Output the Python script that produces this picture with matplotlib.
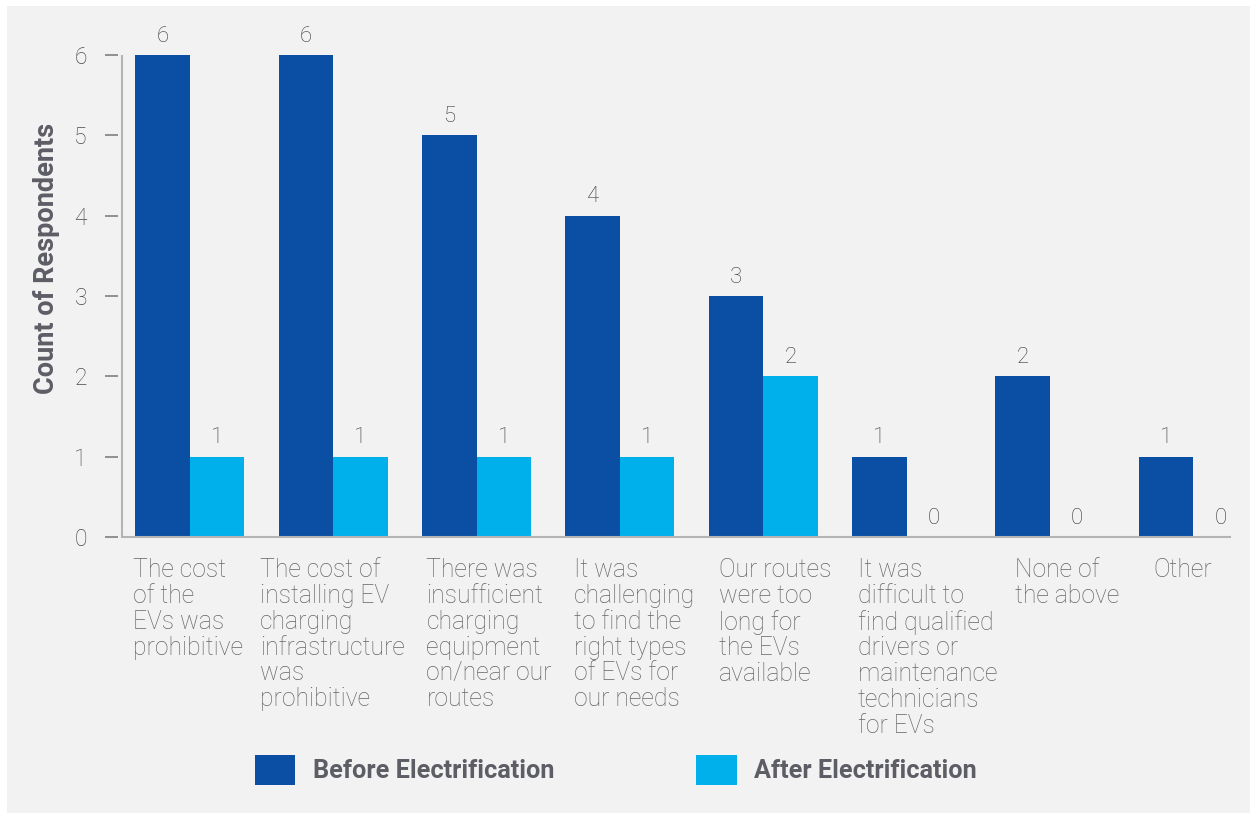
import matplotlib.pyplot as plt
from matplotlib.patches import Rectangle

categories = [
    "The cost\nof the\nEVs was\nprohibitive",
    "The cost of\ninstalling EV\ncharging\ninfrastructure\nwas\nprohibitive",
    "There was\ninsufficient\ncharging\nequipment\non/near our\nroutes",
    "It was\nchallenging\nto find the\nright types\nof EVs for\nour needs",
    "Our routes\nwere too\nlong for\nthe EVs\navailable",
    "It was\ndifficult to\nfind qualified\ndrivers or\nmaintenance\ntechnicians\nfor EVs",
    "None of\nthe above",
    "Other",
]
before = [6, 6, 5, 4, 3, 1, 2, 1]
after = [1, 1, 1, 1, 2, 0, 0, 0]
yticks = [0, 1, 2, 3, 4, 5, 6]

# label left edges relative to group centre (x units)
label_shift = [-0.40, -0.51, -0.35, -0.32, -0.31, -0.34, -0.24, -0.28]

dark = '#0a4fa3'
light = '#00b0eb'
txt = '#666666'
bold_txt = '#5d5d66'

plt.rcParams['font.family'] = ['Roboto', 'DejaVu Sans']

fig = plt.figure(figsize=(12.5, 8.13), dpi=100, facecolor='white')
fig.patches.append(Rectangle((7 / 1250, 0), 1, 1 - 6 / 813, transform=fig.transFigure,
                             facecolor='#f2f2f2', edgecolor='none', zorder=-10))

ax = fig.add_axes([118 / 1250, 1 - 537 / 813, (1230 - 118) / 1250, (537 - 55) / 813])
ax.set_facecolor('none')

x = list(range(len(categories)))
w = 0.38
b1 = ax.bar([i - w / 2 for i in x], before, w, color=dark, label='Before Electrification')
b2 = ax.bar([i + w / 2 for i in x], after, w, color=light, label='After Electrification')
ax.bar_label(b1, padding=6, fontsize=16, color='#3a3a3a', fontweight='light')
ax.bar_label(b2, padding=6, fontsize=16, color='#3a3a3a', fontweight='light')

ax.set_xlim(-0.502, 7.257)
ax.set_ylim(0, 6)
for s in ['top', 'right', 'left']:
    ax.spines[s].set_visible(False)
ax.spines['bottom'].set_color('#b4b4b4')
ax.spines['bottom'].set_linewidth(1.5)
ax.spines['bottom'].set_bounds(-0.475, 7.257)
ax.axvline(-0.475, 0, 1, color='#b4b4b4', lw=1.5)

ax.set_xticks([])
ax.set_yticks(yticks)
ax.tick_params(axis='y', length=9.4, width=1.2, color='#808080', pad=13,
               labelsize=16.5, labelcolor='#4a4a4a')
for t in ax.get_yticklabels():
    t.set_fontweight('light')

for i, lab in enumerate(categories):
    ax.annotate(lab, (i + label_shift[i], 0), xytext=(0, -15), textcoords='offset points',
                ha='left', va='top', fontsize=17.8, color=txt, fontweight='light',
                linespacing=1.1, annotation_clip=False)

fig.text(47 / 1250, 1 - 258 / 813, 'Count of Respondents', rotation=90, ha='center', va='center',
         fontsize=19.5, fontweight='bold', color=bold_txt)

leg = fig.legend(handles=[b1, b2], loc='center left', bbox_to_anchor=(255 / 1250, 1 - 770 / 813),
                 ncol=2, frameon=False, fontsize=18.2, handlelength=1.6, handleheight=1.45,
                 handletextpad=0.7, columnspacing=5.6, borderpad=0, borderaxespad=0)
for t in leg.get_texts():
    t.set_fontweight('bold')
    t.set_color(bold_txt)

fig.savefig('out.png', dpi=100, facecolor=fig.get_facecolor())
